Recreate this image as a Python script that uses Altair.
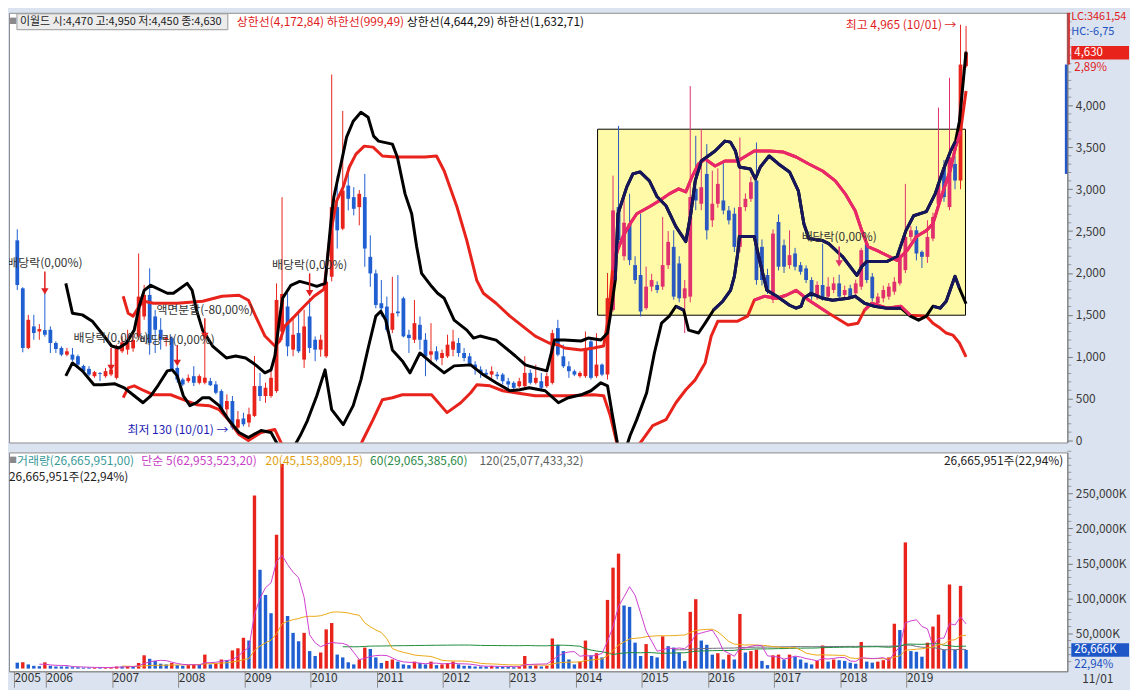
import altair as alt
import pandas as pd

FONT = "Noto Sans CJK KR"
W, H_P, H_V = 1064, 432, 220
RED, BLUE = "#e8231c", "#1f5fd1"

# ---------------- monthly candles: Jul 2005 (t=-6) .. Nov 2019 (t=166); t=0 is Jan 2006 ----------------
first_t = -6
opens = [
    2390, 1817, 1105, 1362, 1302, 1318,
    1322, 1164, 1105, 1025, 1025, 1006, 890, 855, 768, 805, 768, 788,
    748, 1065, 1085, 1100, 1243, 1481, 1738, 1481, 1322, 1203, 1223, 866,
    728, 709, 768, 689, 690, 709, 670, 590, 372, 471, 154, 263,
    214, 293, 650, 531, 531, 590, 1300, 1600, 1085, 1283, 966, 1481,
    1203, 1085, 1005, 1955, 2787, 2529, 3044, 2906, 2787, 2906, 2193, 1995,
    1639, 1599, 1322, 1540, 1698, 1263, 1203, 1381, 1203, 1025, 1065, 985,
    1005, 1084, 1164, 1045, 1005, 906, 847, 807, 787, 787, 787, 708,
    689, 649, 649, 807, 689, 708, 649, 688, 1342, 1005, 886, 827,
    768, 768, 1183, 768, 906, 788, 1560, 2787, 2200, 2589, 2094, 1976,
    1580, 1837, 1857, 1837, 2094, 2312, 2114, 1698, 1718, 3005, 2827, 3183,
    2629, 2827, 2866, 2747, 2708, 2312, 2787, 2886, 3104, 2312, 1976, 1679,
    2609, 2332, 2094, 2233, 2094, 2055, 1916, 1718, 1857, 1718, 1797, 1876,
    1738, 1817, 1758, 1837, 2351, 1956, 1639, 1698, 1718, 1777, 1876, 2035,
    2431, 2510, 2252, 2193, 2411, 2827, 3262, 2787, 3302, 3104, 4470,
]
highs = [
    2522, 1830, 1500, 1500, 1390, 1780,
    1362, 1184, 1124, 1105, 1105, 1025, 906, 887, 830, 816, 866, 880,
    1144, 1243, 1322, 1280, 2233, 1857, 2055, 1560, 1461, 1243, 1243, 887,
    748, 788, 887, 790, 1243, 748, 709, 610, 551, 531, 352, 332,
    392, 1010, 808, 690, 847, 1876, 2906, 1759, 1461, 1560, 1560, 1698,
    1243, 1263, 1916, 4370, 3163, 3935, 3262, 3024, 2990, 3183, 2450, 2040,
    1916, 1718, 1955, 1975, 1718, 1322, 1678, 1480, 1282, 1401, 1124, 1085,
    1263, 1322, 1223, 1104, 1045, 946, 886, 850, 886, 820, 807, 748,
    708, 748, 1005, 847, 906, 807, 807, 1322, 1441, 1144, 946, 847,
    827, 1302, 1203, 1282, 920, 2000, 3163, 3757, 2950, 2945, 2200, 2708,
    2075, 1990, 1900, 2668, 2500, 2510, 2200, 1916, 4232, 3638, 3717, 3539,
    3222, 3250, 3341, 2800, 2780, 3618, 2950, 3150, 3559, 2400, 2050, 2520,
    2700, 2400, 2510, 2300, 2130, 2090, 1950, 1900, 2351, 1950, 1950, 1980,
    1850, 1860, 1920, 2300, 2380, 2000, 1760, 1850, 1880, 1950, 2250, 3064,
    2560, 2560, 2270, 2629, 2720, 3975, 3350, 4331, 3400, 4965, 4950,
]
lows = [
    1797, 1053, 1090, 1203, 1203, 1240,
    1045, 1045, 1006, 1006, 947, 867, 808, 768, 750, 709, 749, 768,
    729, 1045, 1025, 1060, 1203, 1441, 1025, 1045, 1085, 1124, 828, 689,
    650, 689, 650, 669, 670, 650, 551, 352, 293, 130, 140, 170,
    160, 280, 471, 450, 510, 570, 1200, 1006, 1006, 1045, 867, 1045,
    947, 1000, 985, 1900, 2292, 2510, 2747, 2688, 2569, 2074, 1836, 1579,
    1480, 1300, 1282, 1480, 1230, 1045, 1164, 1085, 768, 906, 946, 900,
    985, 1005, 1000, 946, 886, 787, 748, 748, 748, 730, 669, 629,
    609, 629, 629, 669, 669, 609, 629, 669, 1005, 866, 748, 768,
    748, 748, 728, 748, 768, 728, 1540, 2300, 2150, 2094, 1870, 1481,
    1560, 1780, 1760, 1800, 2050, 1680, 1650, 1283, 1650, 2750, 2750, 2400,
    2550, 2780, 2700, 2580, 2250, 2250, 2740, 2850, 1860, 1850, 1750, 1640,
    2030, 2000, 2050, 2030, 1980, 1880, 1680, 1680, 1670, 1690, 1760, 1690,
    1700, 1690, 1720, 1800, 1880, 1660, 1600, 1650, 1680, 1740, 1850, 2000,
    2380, 2150, 2060, 2120, 2380, 2780, 2850, 2750, 3000, 3000, 4450,
]
closes = [
    1857, 1105, 1441, 1283, 1330, 1263,
    1164, 1093, 1025, 1065, 966, 906, 828, 788, 816, 795, 828, 847,
    1124, 1172, 1203, 1200, 1718, 1738, 1164, 1322, 1203, 1230, 847, 728,
    669, 748, 689, 769, 750, 660, 570, 372, 471, 154, 253, 194,
    313, 650, 531, 630, 748, 1678, 1750, 1124, 1263, 1065, 1362, 1105,
    1085, 1203, 1896, 2787, 2510, 2985, 2886, 2767, 2945, 2292, 1995, 1619,
    1579, 1322, 1520, 1520, 1243, 1223, 1401, 1203, 1005, 1065, 966, 1045,
    1144, 1183, 1045, 985, 906, 866, 807, 787, 827, 768, 708, 669,
    629, 708, 807, 689, 748, 629, 768, 1282, 1025, 886, 827, 787,
    807, 1084, 748, 906, 787, 1700, 2747, 2391, 2600, 2154, 1916, 1540,
    1837, 1916, 1797, 2094, 2371, 1718, 1698, 1817, 2906, 2866, 3024, 2510,
    2827, 3064, 2747, 2629, 2312, 2787, 2886, 3084, 1916, 1916, 1797, 2470,
    2075, 2075, 2213, 2075, 2015, 1916, 1718, 1857, 1698, 1837, 1876, 1718,
    1797, 1718, 1876, 2272, 1916, 1698, 1718, 1797, 1837, 1896, 2213, 2431,
    2510, 2233, 2193, 2431, 2668, 3064, 2906, 3381, 3104, 4489, 4630,
]
# monthly volume, millions of shares
volumes = [
    8.5, 9, 6, 4, 3.5, 9,
    4, 3, 3, 3, 2, 2, 1.5, 1.5, 1.6, 1.5, 1.6, 2,
    3, 3, 3.5, 3, 8, 19, 14, 11, 7, 6, 8, 5,
    4, 5, 6, 6, 20, 6, 7, 13, 12, 26, 29, 44,
    40, 247, 141, 105, 79, 191, 292, 75, 51, 39, 51, 25,
    18, 23, 56, 65, 20, 16, 9, 6, 13, 30, 28, 16,
    8, 11, 13, 10, 6, 5, 10, 8, 6, 10, 5, 6,
    8, 10, 6, 4, 4, 3, 3, 3, 4, 3, 3, 2.5,
    2, 3, 18, 4, 4.5, 3, 4, 43, 34, 25, 13, 6,
    10, 40, 19, 22, 16, 98, 144, 164, 90, 88, 37, 18,
    35, 18, 16, 46, 32, 30, 23, 11, 81, 99, 40, 34,
    20, 22, 13, 20, 13, 78, 23, 25, 27, 11, 5, 19,
    20, 13, 20, 17, 13, 8.5, 6, 11, 33, 10, 13, 12,
    11, 8.5, 7, 38, 10, 8.5, 10, 12, 16, 64, 55, 180,
    25, 24, 17, 37, 60, 77, 27, 120, 27, 118, 26.666,
]
assert len(opens) == len(highs) == len(lows) == len(closes) == len(volumes) == 173

# ---------------- channel lines (t, price) ----------------
black_upper = [(2.8, 1876), (4.0, 1520), (5.8, 1500), (7.6, 1425), (9.3, 1283), (11.1, 1128), (12.4, 1104),
    (13.8, 1164), (15.2, 1318), (16.1, 1603), (17.0, 1793), (18.2, 1853), (21.2, 1758), (22.3, 1758),
    (24.8, 1876), (25.7, 1793), (26.5, 1556), (27.6, 1318), (29.4, 1128), (31.9, 986), (33.6, 1009),
    (35.4, 986), (37.2, 903), (38.9, 808), (40.0, 843), (40.7, 1009), (41.6, 1485), (42.1, 1698),
    (43.6, 1853), (45.2, 1900), (46.6, 1876), (48.3, 1841), (49.8, 1876), (51.0, 2708), (51.4, 2910),
    (52.8, 3337), (53.7, 3622), (54.9, 3812), (56.3, 3919), (57.6, 3860), (58.6, 3634), (59.5, 3575),
    (62.0, 3539), (62.9, 3385), (64.3, 2945), (65.5, 2708), (66.4, 2316), (67.3, 1995), (69.1, 1841),
    (70.2, 1758), (71.4, 1698), (73.2, 1437), (75.5, 1318), (76.7, 1223), (77.9, 1247), (80.8, 1199),
    (84.3, 1009), (86.1, 903), (87.9, 867), (90.0, 831), (91.4, 1199), (93.2, 1199), (96.2, 1188),
    (97.5, 1223), (99.8, 1199), (101.0, 1283), (101.5, 1485), (102.4, 1912), (102.9, 2708), (104.5, 3028),
    (105.6, 3183), (106.9, 3207), (108.6, 3100), (110.0, 2910), (111.6, 2803), (113.4, 2553), (115.2, 2375),
    (116.1, 2708), (116.9, 3100), (118.0, 3337), (120.5, 3456), (122.3, 3575), (123.3, 3563), (124.2, 3456),
    (124.9, 3266), (126.9, 3242), (127.8, 3123), (128.7, 3266), (130.3, 3397), (132.0, 3302), (134.0, 3207),
    (135.6, 2981), (136.6, 2589), (137.5, 2411), (140.0, 2387), (141.1, 2351), (143.6, 2197), (146.2, 1971),
    (147.1, 2078), (148.0, 2138), (151.7, 2138), (153.5, 2197), (155.1, 2506), (156.5, 2684), (158.8, 2732),
    (160.4, 2945), (161.8, 3218), (163.2, 3456), (164.1, 3575), (164.8, 3812), (166.0, 4644)]
black_lower = [(2.8, 772), (4.0, 926), (5.8, 831), (7.9, 665), (9.3, 665), (11.7, 677), (13.4, 629), (15.2, 534),
    (16.8, 451), (18.2, 534), (19.6, 665), (21.2, 831), (22.1, 843), (23.0, 772), (24.1, 534), (25.3, 416),
    (26.5, 451), (27.6, 511), (28.8, 511), (30.6, 416), (32.4, 238), (34.2, 95), (35.9, 36), (38.2, 119),
    (40.0, 95), (41.3, -59), (42.5, -166), (44.3, -59), (45.3, 59), (46.6, 238), (48.3, 534), (49.8, 843),
    (51.0, 368), (53.1, 190), (54.9, 416), (56.3, 724), (57.7, 1128), (59.0, 1485), (59.9, 1544), (60.8, 1437),
    (62.0, 1081), (63.8, 950), (65.2, 808), (67.0, 1045), (69.1, 926), (71.4, 808), (73.2, 891), (76.2, 903),
    (78.5, 784), (80.8, 689), (83.3, 594), (85.1, 606), (86.8, 629), (89.7, 594), (92.1, 451), (93.9, 511),
    (96.2, 546), (98.0, 594), (99.8, 689), (101.0, 653), (101.9, 297), (103.0, -107), (103.8, -200),
    (105.1, 59), (106.3, 249), (108.1, 570), (109.5, 1045), (110.8, 1401), (112.2, 1485), (113.4, 1603),
    (114.8, 1556), (115.7, 1318), (117.5, 1283), (118.7, 1401), (120.2, 1556), (121.9, 1663), (123.3, 1793),
    (124.0, 1960), (124.6, 2233), (124.9, 2435), (127.6, 2435), (128.7, 2114), (129.9, 1793), (131.7, 1722),
    (134.0, 1615), (135.2, 1580), (136.1, 1603), (136.6, 1698), (137.9, 1758), (140.0, 1698), (141.8, 1675),
    (144.6, 1698), (145.9, 1722), (147.6, 1639), (149.4, 1603), (151.7, 1580), (154.2, 1580), (155.9, 1485),
    (157.4, 1437), (158.8, 1485), (160.0, 1603), (161.3, 1580), (162.4, 1663), (164.0, 1960), (164.8, 1817),
    (166.0, 1633)]
red_upper = [(13.2, 1722), (14.1, 1520), (15.0, 1485), (16.1, 1603), (17.0, 1663), (18.7, 1639), (23.0, 1639),
    (27.6, 1663), (31.1, 1722), (34.2, 1734), (35.9, 1675), (37.2, 1485), (38.9, 1247), (40.7, 1128),
    (41.6, 1188), (42.5, 1366), (44.3, 1485), (46.0, 1603), (47.8, 1722), (49.6, 1805), (50.7, 2435),
    (51.9, 2862), (53.1, 3028), (54.2, 3266), (55.4, 3420), (56.9, 3515), (58.5, 3503), (60.2, 3397),
    (62.5, 3385), (67.9, 3385), (70.0, 3397), (71.4, 3218), (73.7, 2791), (75.5, 2387), (77.3, 1912),
    (78.5, 1758), (80.8, 1639), (83.3, 1485), (85.6, 1366), (87.9, 1247), (90.4, 1164), (92.1, 1140),
    (93.2, 1104), (96.2, 1081), (98.5, 1104), (100.3, 1128), (101.2, 1485), (101.9, 2031), (102.8, 2268),
    (103.8, 2435), (105.1, 2589), (106.3, 2708), (108.6, 2791), (110.4, 2862), (112.2, 2945), (113.9, 3005),
    (115.2, 2969), (116.3, 3147), (117.5, 3302), (118.7, 3361), (120.5, 3278), (122.3, 3337), (124.6, 3337),
    (127.6, 3456), (130.4, 3456), (132.9, 3444), (135.2, 3385), (137.5, 3302), (140.0, 3218), (142.3, 3100),
    (144.1, 2945), (145.9, 2743), (147.1, 2506), (148.2, 2316), (149.9, 2268), (151.7, 2209), (153.5, 2150),
    (155.3, 2268), (157.0, 2435), (158.8, 2506), (160.0, 2589), (161.5, 2910), (163.1, 3218), (164.1, 3503),
    (165.0, 3693), (166.0, 4173)]
red_lower = [(13.2, 511), (14.1, 629), (15.2, 653), (17.0, 594), (18.7, 546), (21.8, 546), (24.1, 487),
    (26.5, 428), (28.8, 416), (30.6, 368), (32.4, 238), (34.2, 71), (35.9, 0), (38.2, 95), (40.7, 131),
    (41.8, -24), (43.0, -107), (45.3, -107), (49.6, -83), (52.8, -200), (55.4, -166), (56.7, 12), (58.5, 249),
    (60.2, 487), (62.0, 511), (63.8, 546), (69.1, 546), (71.9, 333), (74.4, 451), (76.2, 570), (77.3, 665),
    (79.7, 653), (82.0, 594), (84.3, 570), (87.9, 534), (93.9, 534), (98.5, 546), (100.3, 534), (101.5, 297),
    (102.8, -59), (104.2, -200), (105.6, -143), (107.4, 12), (109.2, 178), (111.6, 249), (113.4, 451),
    (115.2, 606), (116.9, 724), (118.7, 926), (119.8, 1247), (121.0, 1425), (124.6, 1425), (126.4, 1485),
    (127.6, 1675), (129.4, 1722), (131.7, 1698), (133.4, 1734), (135.2, 1793), (137.5, 1675), (141.1, 1520),
    (144.6, 1378), (146.4, 1401), (147.6, 1556), (148.9, 1639), (151.7, 1580), (154.2, 1603), (155.9, 1496),
    (158.8, 1485), (160.0, 1401), (161.3, 1342), (162.4, 1283), (163.6, 1259), (164.8, 1164), (166.0, 999)]

# highlighted box (month index / price)
BOX = {"t0": 99.2, "t1": 165.9, "v0": 1496, "v1": 3717}

# dividend / split markers: month, label, label price, arrow top, arrow tip
div_t = [-1, 11, 23, 28, 47, 143]
div_label = ["배당락(0,00%)", "배당락(0,00%)", "배당락(0,00%)", "액면분할(-80,00%)", "배당락(0,00%)", "배당락(0,00%)"]
div_vlabel = [2114, 1223, 1199, 1556, 2090, 2435]
div_vtop = [2019, 1104, 1140, 1461, 1995, 2316]
div_vtip = [1781, 867, 926, 1247, 1758, 2114]

# ---------------- scales & axes ----------------
XS = alt.Scale(domain=[-6.6, 183.46], nice=False, zero=False)
PS = alt.Scale(domain=[-24, 5107], nice=False, zero=False)
VS = alt.Scale(domain=[-3.8, 308.3], nice=False, zero=False)

p_axis = alt.Axis(orient="right", values=list(range(0, 4001, 500)),
                  labelExpr="format(datum.value, ',')",
                  tickSize=5, tickColor="#7a7a7a", domainColor="#7a7a7a", labelColor="#3a3a3a",
                  labelFontSize=12, labelPadding=3, grid=False, title=None, zindex=1)
year_ticks = [-6.6] + [12 * k - 0.8 for k in range(14)]
x_axis = alt.Axis(values=year_ticks,
                  labelExpr="datum.value < -1 ? ' 2005' : ' ' + (2006 + round((datum.value + 0.8) / 12))",
                  tickSize=16, tickColor="#8a8a8a", domainColor="#8a8a8a", labelAlign="left",
                  labelBaseline="top", labelPadding=-15, labelFontSize=12, labelColor="#333333",
                  labelFlush=False, labelOverlap=False, grid=False, title=None, zindex=1)
v_axis = alt.Axis(orient="right", values=[50, 100, 150, 200, 250],
                  labelExpr="format(datum.value * 1000, ',') + 'K'",
                  tickSize=5, tickColor="#7a7a7a", domainColor="#7a7a7a", labelColor="#3a3a3a",
                  labelFontSize=12, labelPadding=3, grid=False, title=None, zindex=1)


def PX():
    return alt.X("t:Q", scale=XS, axis=None)


def PY(f):
    return alt.Y(f, type="quantitative", scale=PS, axis=p_axis)


def VX():
    return alt.X("t:Q", scale=XS, axis=x_axis)


def VY(f):
    return alt.Y(f, type="quantitative", scale=VS, axis=v_axis)


ts = list(range(first_t, first_t + len(opens)))
cdf = pd.DataFrame({"t": ts, "o": opens, "h": highs, "l": lows, "c": closes})
cdf["lo"] = cdf[["o", "c"]].min(axis=1)
cdf["hi"] = cdf[["o", "c"]].max(axis=1)
cols = []
for _, r in cdf.iterrows():
    mid = (r.lo + r.hi) / 2
    inbox = 100 <= r.t <= 165 and BOX["v0"] <= mid <= BOX["v1"]
    if r.c >= r.o:
        cols.append("#e0306e" if inbox else RED)
    else:
        cols.append("#2a58c0" if inbox else BLUE)
cdf["col"] = cols

bands = {"RU": (red_upper, RED), "RL": (red_lower, RED), "BU": (black_upper, "#000000"), "BL": (black_lower, "#000000")}
brows, orows = [], []
for name, (pts, col) in bands.items():
    seg, prev = 0, False
    for tt, vv in pts:
        brows.append({"t": tt, "v": vv, "band": name, "col": col})
        inside = BOX["t0"] <= tt <= BOX["t1"] and BOX["v0"] <= vv <= BOX["v1"]
        if inside and not prev:
            seg += 1
        if inside:
            orows.append({"t": tt, "v": vv, "seg": f"{name}{seg}",
                          "col": "#e8286c" if name.startswith("R") else "#16165c"})
        prev = inside
bdf = pd.DataFrame(brows)
odf = pd.DataFrame(orows)

one = pd.DataFrame({"k": [0]})


def label(x, y, text, color, size=12, align="left"):
    return alt.Chart(one).mark_text(text=text, color=color, fontSize=size, align=align,
                                    baseline="middle").encode(x=alt.value(x), y=alt.value(y))


# ---------------- price panel ----------------
box = alt.Chart(pd.DataFrame([BOX])).mark_rect(fill="#fffaa8", stroke="#000000", strokeWidth=1).encode(
    x=alt.X("t0:Q", scale=XS, axis=None), x2="t1:Q", y=PY("v0"), y2="v1:Q")

wicks = alt.Chart(cdf).mark_rule(strokeWidth=1).encode(
    x=PX(), y=PY("l"), y2="h:Q", color=alt.Color("col:N", scale=None))
bodies = alt.Chart(cdf).mark_bar(size=3.8).encode(
    x=PX(), y=PY("lo"), y2="hi:Q", color=alt.Color("col:N", scale=None))

band_lines = alt.Chart(bdf).mark_line(strokeWidth=3, clip=True, strokeJoin="round").encode(
    x=PX(), y=PY("v"), color=alt.Color("col:N", scale=None), detail="band:N", order="t:Q")
overlay = alt.Chart(odf).mark_line(strokeWidth=3, clip=True, strokeJoin="round").encode(
    x=PX(), y=PY("v"), color=alt.Color("col:N", scale=None), detail="seg:N", order="t:Q")

ddf = pd.DataFrame({"t": div_t, "label": div_label, "vl": div_vlabel, "vt": div_vtop, "vp": div_vtip})
ddf["col"] = ["#e02020" if t < 100 else "#e0306e" for t in div_t]
shafts = alt.Chart(ddf).mark_rule(strokeWidth=1.5).encode(
    x=PX(), y=PY("vt"), y2="vp:Q", color=alt.Color("col:N", scale=None))
heads = alt.Chart(ddf).mark_point(shape="triangle-down", filled=True, size=55, opacity=1).encode(
    x=PX(), y=PY("vp"), color=alt.Color("col:N", scale=None))
div_text = alt.Chart(ddf).mark_text(fontSize=12, color="#333333", clip=True).encode(
    x=PX(), y=PY("vl"), text="label:N")

ext_df = pd.DataFrame({"t": [33, 165], "v": [130, 4965],
                       "label": ["최저 130 (10/01) →", "최고 4,965 (10/01) →"],
                       "col": ["#1c1cb4", "#e01c1c"]})
ext_text = alt.Chart(ext_df).mark_text(align="right", dx=-4, fontSize=12).encode(
    x=PX(), y=PY("v"), text="label:N", color=alt.Color("col:N", scale=None))

# minor ticks every 100 (and unlabeled 4,500 / 5,000 ticks)
pmin = alt.Chart(pd.DataFrame({"v": [v for v in range(100, 5101, 100) if v % 500 or v > 4000]})).mark_tick(
    color="#7a7a7a", size=4, thickness=1, orient="horizontal").encode(x=alt.value(W + 2), y=PY("v"))

BOXPATH = "M-1,-0.2333L1,-0.2333L1,0.2333L-1,0.2333Z"
last_p = pd.DataFrame({"v": [closes[-1]]})
p_box = alt.Chart(last_p).mark_point(shape=BOXPATH, size=3364, filled=True, opacity=1, color=RED,
                                     strokeWidth=0).encode(x=alt.value(1097), y=PY("v"))
p_val = alt.Chart(last_p).mark_text(text="4,630", color="white", fontSize=11.5, align="left").encode(
    x=alt.value(1071), y=PY("v"))
p_pct = alt.Chart(last_p).mark_text(text="2,89%", color="#e01c1c", fontSize=11.5, align="left", dy=15).encode(
    x=alt.value(1071), y=PY("v"))

hdr_box = alt.Chart(one).mark_rect(fill="#ececec", stroke="#9a9a9a", strokeWidth=1).encode(
    x=alt.value(8), x2=alt.value(220), y=alt.value(1), y2=alt.value(17))
lc_bar = alt.Chart(one).mark_rule(color="#e02020", strokeWidth=3).encode(
    x=alt.value(W + 1), y=alt.value(0), y2=alt.value(52))
hc_bar = alt.Chart(one).mark_rule(color="#2356c8", strokeWidth=3).encode(
    x=alt.value(W - 1), y=alt.value(52), y2=alt.value(162))

price = alt.layer(
    box, wicks, bodies, band_lines, overlay, shafts, heads, div_text, ext_text, pmin,
    hdr_box,
    label(0, 9, "■", "#8a8a8a", 8),
    label(11, 9, "이월드 시:4,470 고:4,950 저:4,450 종:4,630", "#222222", 11),
    label(229, 9, "상한선(4,172,84) 하한선(999,49)", "#e01c1c"),
    label(400, 9, "상한선(4,644,29) 하한선(1,632,71)", "#111111"),
    lc_bar, hc_bar,
    label(1068, 4, "LC:3461,54", "#e01c1c", 11),
    label(1068, 19, "HC:-6,75", "#2050c0", 11),
    p_box, p_val, p_pct,
).properties(width=W, height=H_P)

# ---------------- volume panel ----------------
vdf = pd.DataFrame({"t": ts, "vol": volumes})
vdf["col"] = [BLUE] + [RED if volumes[i] > volumes[i - 1] else BLUE for i in range(1, len(volumes))]

vbars = alt.Chart(vdf).mark_bar(size=3.4).encode(
    x=VX(), y=VY("vol"), color=alt.Color("col:N", scale=None))


def ma_line(n, color):
    return alt.Chart(vdf).transform_window(
        ma="mean(vol)", cnt="count()", frame=[-(n - 1), 0], sort=[alt.SortField("t")]
    ).transform_filter(f"datum.cnt == {n}").mark_line(color=color, strokeWidth=1, clip=True).encode(
        x=VX(), y=VY("ma"))


vmin = alt.Chart(pd.DataFrame({"v": [v for v in range(10, 311, 10) if v % 50 or v > 250]})).mark_tick(
    color="#7a7a7a", size=4, thickness=1, orient="horizontal").encode(x=alt.value(W + 2), y=VY("v"))

last_v = pd.DataFrame({"v": [volumes[-1]]})
v_box = alt.Chart(last_v).mark_point(shape=BOXPATH, size=3364, filled=True, opacity=1, color="#1e56c8",
                                     strokeWidth=0).encode(x=alt.value(1097), y=VY("v"))
v_val = alt.Chart(last_v).mark_text(text="26,666K", color="white", fontSize=11.5, align="left").encode(
    x=alt.value(1071), y=VY("v"))
v_pct = alt.Chart(last_v).mark_text(text="22,94%", color="#2050c0", fontSize=11.5, align="left", dy=15).encode(
    x=alt.value(1071), y=VY("v"))

volume = alt.layer(
    vbars,
    ma_line(120, "#6e6e7e"), ma_line(60, "#1e8c3c"), ma_line(20, "#eba817"), ma_line(5, "#cf3fcf"),
    vmin,
    label(0, 9, "■", "#8a8a8a", 8),
    label(8, 9, "거래량(26,665,951,00)", "#3a9a9a"),
    label(133, 9, "단순 5(62,953,523,20)", "#c83cc8"),
    label(258, 9, "20(45,153,809,15)", "#e0a010"),
    label(363, 9, "60(29,065,385,60)", "#2a8a48"),
    label(473, 9, "120(25,077,433,32)", "#606060"),
    label(0, 25, "26,665,951주(22,94%)", "#222222"),
    label(1060, 9, "26,665,951주(22,94%)", "#222222", align="right"),
    label(1079, H_V + 8, "11/01", "#333333"),
    v_box, v_val, v_pct,
).properties(width=W, height=H_V)

chart = alt.vconcat(price, volume, spacing=2).properties(
    background="#dae3ef", padding=0
).configure(font=FONT).configure_view(fill="white", stroke="#8c8c8c", strokeWidth=1)

chart.save("out.html", embed_options={"renderer": "svg", "actions": False})
